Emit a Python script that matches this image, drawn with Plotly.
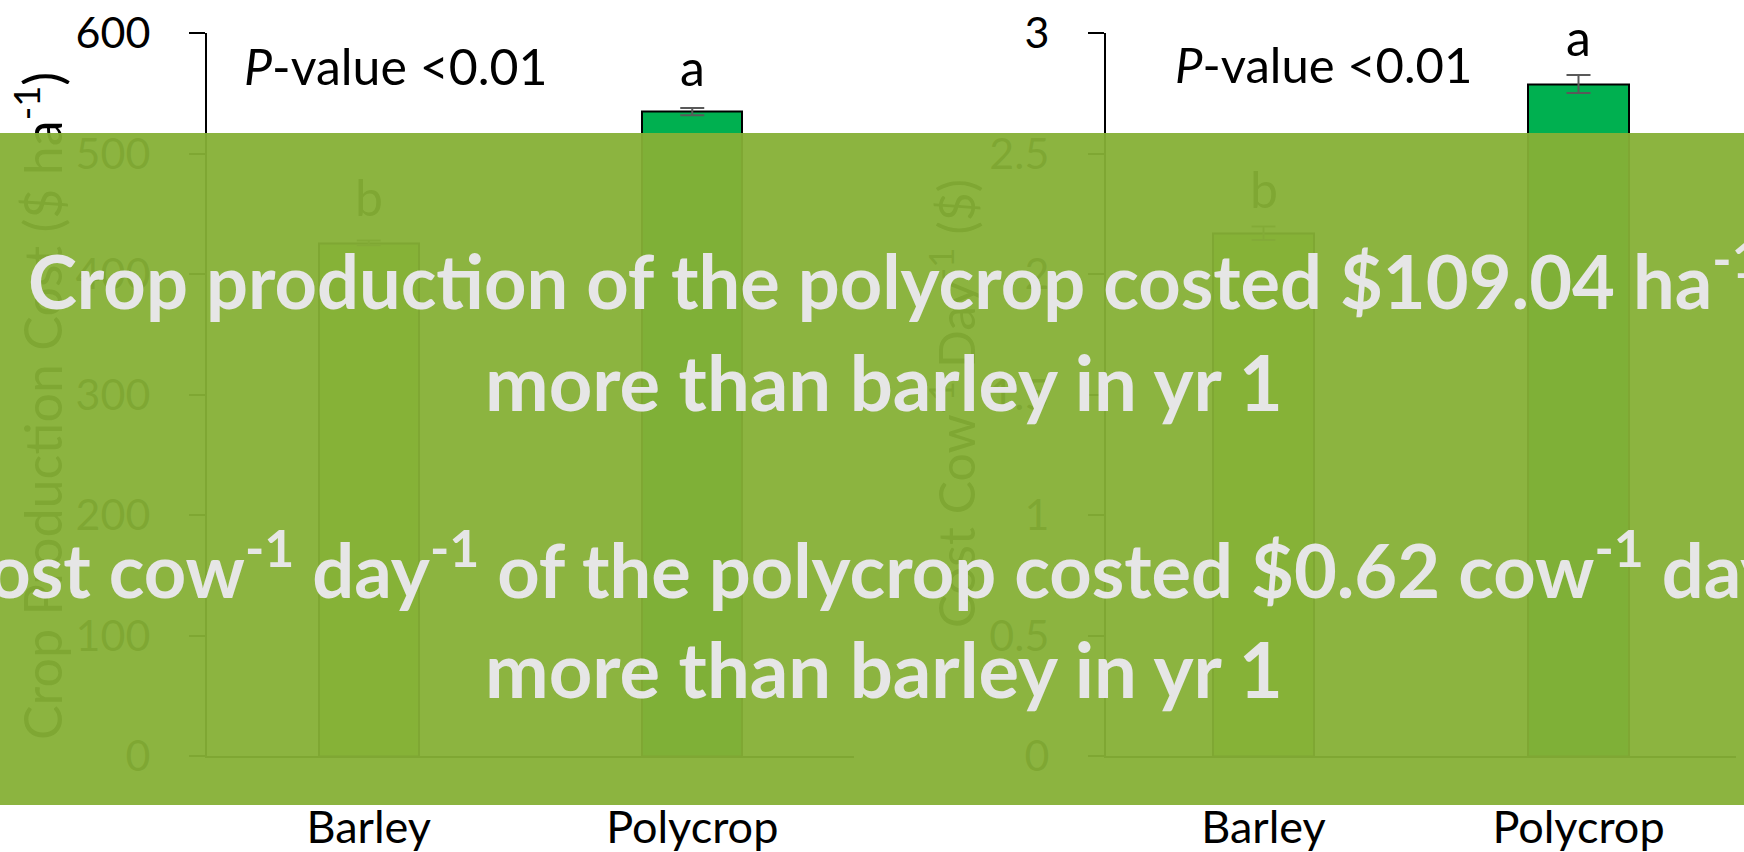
import plotly.graph_objects as go

# ---------------- data ----------------
categories = ["Barley", "Polycrop"]
crop_cost = [426, 535]          # $ ha-1
crop_cost_err = [2, 3]
crop_letters = ["b", "a"]
cow_cost = [2.17, 2.79]         # $ cow-1 day-1
cow_cost_err = [0.028, 0.037]
cow_letters = ["b", "a"]
left_ticks = [0, 100, 200, 300, 400, 500, 600]
right_ticks = [0, 0.5, 1, 1.5, 2, 2.5, 3]
right_ticktext = ["0", "0.5", "1", "1.5", "2", "2.5", "3"]
bar_colors = ["#92D050", "#00B050"]
pvalue_text = "<i>P</i>-value &lt;0.01"
left_title = "Crop Production Cost ($ ha<sup>-1</sup>)"
right_title = "Cost Cow<sup>-1</sup> Day<sup>-1</sup> ($)"
overlay_lines = [
    "Crop production of the polycrop costed $109.04 ha<sup>-1</sup>",
    "more than barley in yr 1",
    "Cost cow<sup>-1</sup> day<sup>-1</sup> of the polycrop costed $0.62 cow<sup>-1</sup> day<sup>-1</sup>",
    "more than barley in yr 1",
]

W, H = 1744, 852
FONT = "Lato"


def px_x(p):
    return p / W


def px_y(p):
    return 1 - p / H


fig = go.Figure()

fig.add_trace(go.Bar(
    x=categories, y=crop_cost, width=0.31,
    marker=dict(color=bar_colors, line=dict(color="black", width=2)),
    error_y=dict(type="data", array=crop_cost_err, color="#595959", thickness=2, width=12),
    xaxis="x", yaxis="y", showlegend=False,
))
fig.add_trace(go.Bar(
    x=categories, y=cow_cost, width=0.32,
    marker=dict(color=bar_colors, line=dict(color="black", width=2)),
    error_y=dict(type="data", array=cow_cost_err, color="#595959", thickness=2, width=12),
    xaxis="x2", yaxis="y2", showlegend=False,
))

axis_common_y = dict(
    showline=True, linecolor="black", linewidth=2,
    ticks="outside", ticklen=16, tickwidth=2, tickcolor="black",
    showgrid=False, zeroline=False, automargin=False,
    tickfont=dict(family=FONT, size=43, color="black"),
    ticklabelstandoff=30,
)
axis_common_x = dict(
    showline=True, linecolor="black", linewidth=2,
    ticks="", showgrid=False, zeroline=False, automargin=False,
    tickfont=dict(family=FONT, size=45, color="black"),
    ticklabelstandoff=31,
)

ydom = [px_y(756), px_y(33.4)]
fig.update_layout(
    width=W, height=H,
    margin=dict(l=0, r=0, t=0, b=0, autoexpand=False),
    paper_bgcolor="white", plot_bgcolor="rgba(0,0,0,0)",
    xaxis=dict(domain=[px_x(207), px_x(854)], range=[-0.5, 1.5], anchor="y", **axis_common_x),
    yaxis=dict(domain=ydom, range=[0, 600], tickvals=left_ticks, anchor="x", **axis_common_y),
    xaxis2=dict(domain=[px_x(1106), px_x(1736)], range=[-0.5, 1.5], anchor="y2", **axis_common_x),
    yaxis2=dict(domain=ydom, range=[0, 3], tickvals=right_ticks, ticktext=right_ticktext,
                anchor="x2", **axis_common_y),
    bargap=0,
)

ann = []
# axis titles (drawn below overlay)
ann.append(dict(text=left_title, textangle=-90, xref="paper", yref="paper",
                x=px_x(38), y=px_y(406), xanchor="center", yanchor="middle",
                showarrow=False, font=dict(family=FONT, size=52, color="black")))
ann.append(dict(text=right_title, textangle=-90, xref="paper", yref="paper",
                x=px_x(953), y=px_y(404), xanchor="center", yanchor="middle",
                showarrow=False, font=dict(family=FONT, size=50, color="black")))
# P-values
ann.append(dict(text=pvalue_text, xref="paper", yref="paper", x=px_x(242), y=px_y(66),
                xanchor="left", yanchor="middle", showarrow=False,
                font=dict(family=FONT, size=50, color="black")))
ann.append(dict(text=pvalue_text, xref="paper", yref="paper", x=px_x(1173), y=px_y(64),
                xanchor="left", yanchor="middle", showarrow=False,
                font=dict(family=FONT, size=49, color="black")))
# letters
for cat, val, let, sh in zip(categories, crop_cost, crop_letters, [46, 45]):
    ann.append(dict(text=let, xref="x", yref="y", x=cat, y=val, xanchor="center",
                    yanchor="middle", yshift=sh, showarrow=False,
                    font=dict(family=FONT, size=50, color="black")))
for cat, val, let, sh in zip(categories, cow_cost, cow_letters, [44, 47]):
    ann.append(dict(text=let, xref="x2", yref="y2", x=cat, y=val, xanchor="center",
                    yanchor="middle", yshift=sh, showarrow=False,
                    font=dict(family=FONT, size=50, color="black")))
# overlay box
ann.append(dict(text=" ", xref="paper", yref="paper", x=0.5, y=px_y((133.5 + 805) / 2),
                xanchor="center", yanchor="middle", showarrow=False,
                width=W + 10, height=805 - 133.5, bgcolor="rgba(134,176,54,0.95)",
                borderpad=0, borderwidth=0))
# overlay text
for line, yc, xc, fs in zip(overlay_lines, [276, 382, 565, 668], [895, 884, 884, 884],
                            [74, 76, 74, 76]):
    ann.append(dict(text="<b>" + line + "</b>", xref="paper", yref="paper",
                    x=px_x(xc), y=px_y(yc), xanchor="center", yanchor="middle",
                    showarrow=False, font=dict(family=FONT, size=fs, color="#E6E6E6")))

fig.update_layout(annotations=ann)

fig.write_html("out.html", config={"displayModeBar": False},
               post_script="document.body.style.margin='0';document.body.style.overflow='hidden';")
